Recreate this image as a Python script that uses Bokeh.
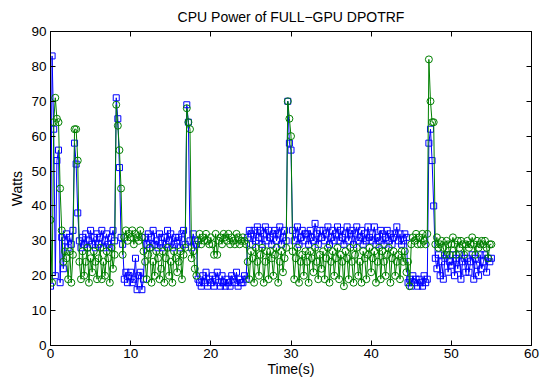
from bokeh.plotting import figure
from bokeh.models import LinearAxis, FixedTicker, Range1d, ColumnDataSource
from bokeh.embed import file_html
from bokeh.resources import INLINE

TITLE = "CPU Power of FULL\u2212GPU DPOTRF"
X_LABEL = "Time(s)"
Y_LABEL = "Watts"
X_TICKS = [0, 10, 20, 30, 40, 50, 60]
Y_TICKS = [0, 10, 20, 30, 40, 50, 60, 70, 80, 90]

SAMPLE_PERIOD = 0.2  # seconds between samples

# CPU power (W) of the first series (blue squares), one row per 2 s
BLUE = [
    17, 83, 62, 20, 53, 56, 18, 31, 22, 30,
    32, 28, 31, 29, 33, 58, 52, 38, 30, 28,
    31, 29, 32, 28, 30, 33, 29, 31, 28, 32,
    29, 31, 33, 28, 30, 32, 29, 28, 31, 33,
    30, 71, 65, 51, 31, 29, 19, 21, 18, 20,
    21, 18, 19, 25, 16, 20, 21, 16, 19, 31,
    29, 32, 28, 31, 33, 29, 30, 28, 32, 31,
    28, 31, 29, 33, 30, 32, 28, 29, 31, 30,
    31, 28, 32, 33, 29, 69, 64, 30, 28, 32,
    30, 29, 19, 18, 17, 20, 18, 21, 17, 19,
    18, 20, 17, 19, 21, 18, 17, 20, 18, 17,
    19, 18, 17, 20, 19, 18, 21, 17, 19, 18,
    18, 20, 19, 31, 33, 32, 29, 33, 30, 34,
    31, 33, 29, 32, 34, 30, 33, 31, 29, 32,
    33, 30, 32, 34, 29, 31, 33, 30, 70, 58,
    56, 33, 30, 32, 34, 29, 31, 33, 30, 32,
    32, 29, 33, 31, 30, 35, 32, 29, 33, 31,
    33, 30, 32, 34, 29, 31, 33, 30, 32, 34,
    30, 33, 31, 29, 32, 34, 30, 32, 33, 29,
    32, 34, 30, 31, 33, 29, 32, 30, 34, 31,
    30, 32, 34, 29, 31, 30, 33, 32, 29, 31,
    33, 30, 32, 29, 31, 32, 34, 30, 32, 29,
    30, 32, 31, 18, 19, 17, 20, 18, 19, 17,
    19, 18, 17, 20, 18, 19, 58, 62, 53, 40,
    25, 22, 26, 20, 24, 19, 25, 26, 21, 24,
    23, 26, 20, 25, 22, 26, 19, 24, 25, 21,
    25, 21, 24, 26, 19, 25, 23, 20, 26, 22,
    24, 26, 21, 25, 24, 25,
]

# CPU power (W) of the second series (green circles), one row per 2 s
GREEN = [
    36, 18, 64, 71, 65, 64, 45, 33, 24, 27,
    25, 19, 27, 18, 26, 62, 62, 53, 24, 19,
    27, 20, 24, 28, 18, 25, 21, 27, 24, 19,
    25, 28, 19, 24, 20, 27, 25, 18, 28, 22,
    26, 69, 63, 56, 45, 26, 31, 33, 30, 32,
    31, 33, 29, 32, 31, 30, 33, 31, 27, 24,
    19, 26, 28, 18, 24, 20, 27, 25, 19, 22,
    27, 18, 25, 28, 20, 24, 18, 27, 25, 21,
    24, 27, 19, 26, 28, 68, 64, 62, 25, 27,
    22, 20, 30, 32, 29, 31, 30, 32, 30, 29,
    31, 29, 26, 32, 26, 30, 31, 29, 32, 31,
    30, 32, 29, 31, 30, 29, 32, 31, 29, 30,
    31, 30, 29, 24, 19, 27, 25, 18, 28, 24,
    20, 26, 28, 18, 24, 27, 19, 27, 25, 20,
    26, 28, 18, 24, 27, 21, 25, 28, 70, 65,
    60, 27, 19, 25, 28, 18, 24, 26, 20, 27,
    24, 18, 27, 25, 21, 28, 24, 19, 26, 22,
    27, 19, 25, 28, 18, 24, 27, 20, 25, 28,
    19, 26, 24, 17, 27, 25, 19, 28, 24, 18,
    26, 28, 20, 24, 18, 27, 25, 19, 26, 28,
    21, 25, 27, 18, 24, 28, 19, 27, 24, 20,
    26, 28, 18, 25, 27, 20, 24, 26, 19, 27,
    24, 27, 21, 24, 17, 29, 31, 30, 32, 29,
    31, 29, 32, 30, 29, 32, 82, 70, 64, 64,
    29, 31, 28, 29, 30, 28, 26, 30, 29, 26,
    29, 31, 29, 26, 30, 28, 30, 29, 26, 29,
    30, 28, 29, 31, 29, 26, 30, 28, 29, 30,
    29, 30, 28, 25, 29, 29,
]

TIME = [round(i * SAMPLE_PERIOD, 1) for i in range(len(BLUE))]

src = ColumnDataSource(dict(t=TIME, blue=BLUE, green=GREEN))

FONT = "Liberation Sans"

p = figure(
    width=554, height=381,
    x_range=Range1d(0, 60), y_range=Range1d(0, 90),
    output_backend="svg", toolbar_location=None,
    min_border_left=50, min_border_right=23,
    min_border_top=31, min_border_bottom=36,
    title=TITLE, x_axis_label=X_LABEL, y_axis_label=Y_LABEL,
)
p.background_fill_color = "white"
p.border_fill_color = "white"
p.grid.visible = False
p.outline_line_color = "black"
p.outline_line_width = 1

p.title.align = "center"
p.title.vertical_align = "top"
p.title.text_font = FONT
p.title.text_font_size = "14px"
p.title.text_font_style = "normal"
p.title.text_color = "black"
p.title.standoff = 10


def style_axis(ax, ticks, labels=True):
    ax.ticker = FixedTicker(ticks=ticks)
    ax.major_tick_in = 5
    ax.major_tick_out = 0
    ax.minor_tick_line_color = None
    ax.axis_line_color = "black"
    ax.major_tick_line_color = "black"
    ax.major_label_text_font = FONT
    ax.major_label_text_font_size = "13.5px"
    ax.major_label_text_color = "black"
    ax.axis_label_text_font = FONT
    ax.axis_label_text_font_size = "14px"
    ax.axis_label_text_font_style = "normal"
    ax.axis_label_text_color = "black"
    if not labels:
        ax.major_label_overrides = {v: "" for v in ticks}


style_axis(p.xaxis[0], X_TICKS)
style_axis(p.yaxis[0], Y_TICKS)
p.xaxis[0].major_label_standoff = 3
p.xaxis[0].axis_label_standoff = 0
p.yaxis[0].major_label_standoff = 4
p.yaxis[0].axis_label_standoff = 3

top_ax = LinearAxis()
style_axis(top_ax, X_TICKS, labels=False)
p.add_layout(top_ax, "above")
right_ax = LinearAxis()
style_axis(right_ax, Y_TICKS, labels=False)
p.add_layout(right_ax, "right")

p.line("t", "blue", source=src, line_color="#0000ff", line_width=1)
p.scatter("t", "blue", source=src, marker="square", size=6,
          fill_color=None, line_color="#0000ff", line_width=1)
p.line("t", "green", source=src, line_color="#008000", line_width=1)
p.scatter("t", "green", source=src, marker="circle", size=7,
          fill_color=None, line_color="#008000", line_width=1)

open("out.html", "w").write(file_html(p, INLINE))
